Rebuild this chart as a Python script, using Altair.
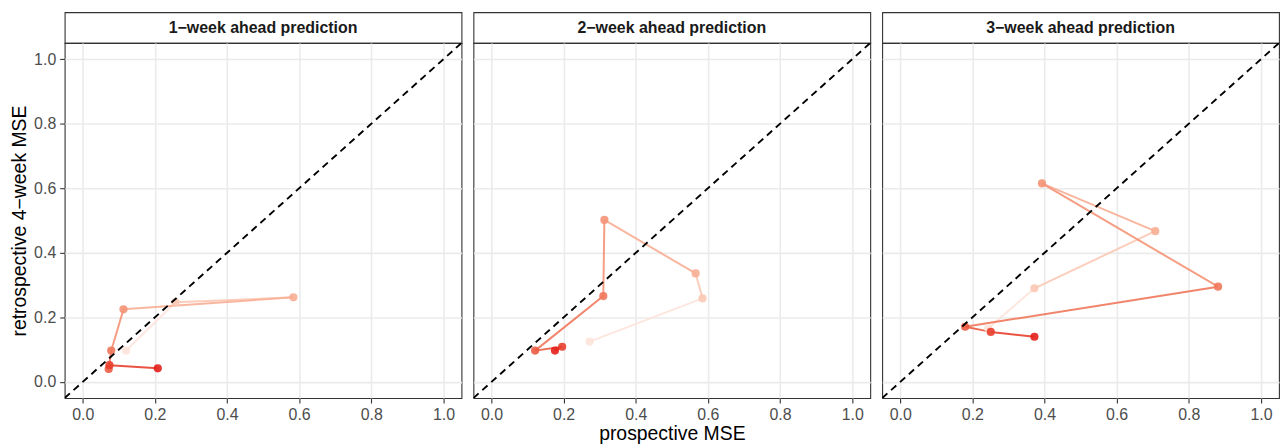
import altair as alt
import pandas as pd

PANEL_TITLES = ["1−week ahead prediction", "2−week ahead prediction", "3−week ahead prediction"]
STEPS = [1, 2, 3, 4, 5, 6, 7, 8]

P1_X = [0.120, 0.257, 0.584, 0.113, 0.079, 0.072, 0.074, 0.208]
P1_Y = [0.097, 0.247, 0.262, 0.225, 0.097, 0.040, 0.052, 0.042]
P2_X = [0.272, 0.585, 0.566, 0.313, 0.310, 0.121, 0.196, 0.176]
P2_Y = [0.125, 0.259, 0.336, 0.502, 0.266, 0.097, 0.109, 0.097]
P3_X = [0.244, 0.372, 0.707, 0.393, 0.881, 0.180, 0.251, 0.372]
P3_Y = [0.166, 0.290, 0.467, 0.615, 0.295, 0.171, 0.155, 0.140]

TICKS = [0.0, 0.1, 0.2, 0.3, 0.4, 0.5, 0.6, 0.7, 0.8, 0.9, 1.0]
DOMAIN = [-0.05, 1.05]
DIAG = [-0.05, 1.05]

X_TITLE = "prospective MSE"
Y_TITLE = "retrospective 4−week MSE"

STEP_COLORS = ["#fde3d9", "#fbc9b5", "#f8ae95", "#f49377", "#f0785c", "#ec5c43", "#e83f2d", "#e4201b"]
FONT = "Liberation Sans"
W, H, STRIP_H = 399, 357, 31

MAJOR = "round(datum.value * 10) % 2 == 0"


def make_axis(show, title=None, pad=6):
    kw = dict(
        values=TICKS, grid=True, gridColor="#ebebeb",
        gridWidth={"condition": {"test": MAJOR, "value": 1.6}, "value": 0.8},
        domain=False,
        ticks=show, tickColor="#333333", tickSize=5, tickWidth=1.1,
        tickOpacity={"condition": {"test": MAJOR, "value": 1}, "value": 0},
        labels=show, labelExpr=f"{MAJOR} ? format(datum.value, '.1f') : ''",
        labelFont=FONT, labelFontSize=16, labelColor="#4d4d4d", labelPadding=4,
        labelFlush=False, labelOverlap=False,
    )
    if title:
        kw.update(title=title, titleFont=FONT, titleFontSize=19.5, titleFontWeight="normal",
                  titleColor="black", titlePadding=pad)
    else:
        kw.update(title=None)
    return alt.Axis(**kw)


def panel(i, xs, ys):
    pts = pd.DataFrame({"x": xs, "y": ys, "step": STEPS})
    seg = pd.DataFrame({"x": xs[:-1], "y": ys[:-1], "x2": xs[1:], "y2": ys[1:], "step": STEPS[:-1]})
    diag = pd.DataFrame({"x": DIAG, "y": DIAG})

    xaxis = make_axis(True, X_TITLE if i == 1 else None, pad=2)
    yaxis = make_axis(i == 0, Y_TITLE if i == 0 else None, pad=4.3)
    sx = alt.Scale(domain=DOMAIN, nice=False, zero=False)
    sy = alt.Scale(domain=DOMAIN, nice=False, zero=False)
    col = alt.Color("step:O", scale=alt.Scale(domain=STEPS, range=STEP_COLORS), legend=None)

    lines = alt.Chart(seg).mark_rule(strokeWidth=2, opacity=0.9).encode(
        x=alt.X("x:Q", scale=sx, axis=xaxis),
        y=alt.Y("y:Q", scale=sy, axis=yaxis),
        x2="x2:Q", y2="y2:Q", color=col,
    )
    points = alt.Chart(pts).mark_circle(size=68, opacity=0.9).encode(
        x="x:Q", y="y:Q", color=col,
    )
    dline = alt.Chart(diag).mark_line(color="black", strokeWidth=1.9, strokeDash=[7, 5], clip=True).encode(
        x="x:Q", y="y:Q",
    )
    plot = alt.layer(lines, points, dline).properties(width=W, height=H)

    strip = alt.Chart(pd.DataFrame({"t": [PANEL_TITLES[i]]})).mark_text(
        font=FONT, fontSize=16, fontWeight="bold", color="#1a1a1a", baseline="middle", align="center"
    ).encode(text="t:N", x=alt.value(W / 2), y=alt.value(STRIP_H / 2)).properties(width=W, height=STRIP_H)

    return alt.vconcat(strip, plot, spacing=0, bounds="flush")


chart = alt.hconcat(
    panel(0, P1_X, P1_Y),
    panel(1, P2_X, P2_Y),
    panel(2, P3_X, P3_Y),
    spacing=10,
).properties(
    padding={"left": 0, "top": 2, "right": 0, "bottom": 0},
    background="white",
).configure_view(
    stroke="#333333", strokeWidth=1.1, fill="white"
)

chart.save("out.html", embed_options={"renderer": "svg", "actions": False})
